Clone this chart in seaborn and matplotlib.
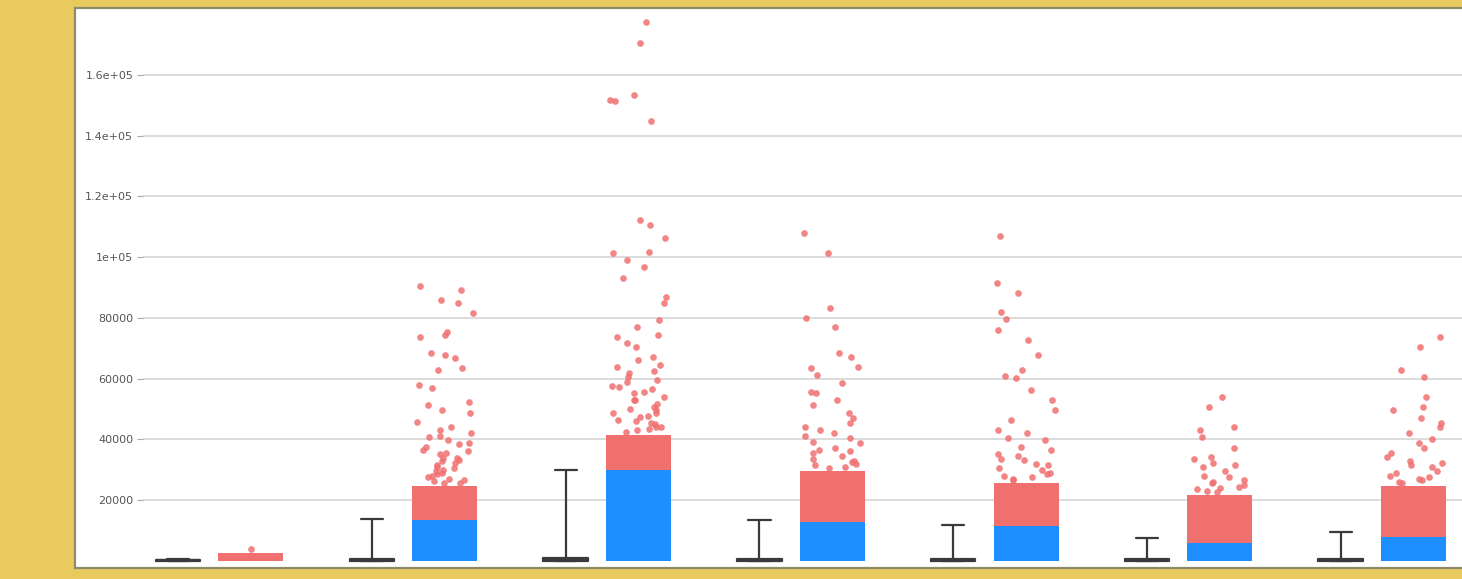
import numpy as np
import pandas as pd
import matplotlib
matplotlib.use("Agg")
import matplotlib.pyplot as plt
import seaborn as sns
from matplotlib.patches import Rectangle

# ---- data -------------------------------------------------------------
groups = ["A", "B", "C", "D", "E", "F", "G"]

# five-number summaries of the boxes (whiskers span min..max)
box_min = [0, 0, 0, 0, 0, 0, 0]
box_q1 = [0, 0, 0, 0, 0, 0, 0]
box_med = [100, 300, 400, 300, 300, 200, 200]
box_q3 = [300, 700, 900, 700, 600, 500, 500]
box_max = [400, 13800, 29900, 13400, 11700, 7500, 9400]

# densely packed observations: within-whisker band and crowded outlier band
inlier_top = [0, 13400, 29800, 12800, 11300, 5800, 7800]
dense_top = [2500, 24500, 41500, 29500, 25500, 21500, 24500]

# scattered outlying observations above the crowded band
out_a = [3800]
out_b = [90600, 89200, 85900, 84900, 81600, 75300, 74400, 73700, 68400, 67700,
         66700, 63500, 62800, 57900, 56900, 52300, 51300, 49700, 48700, 45700,
         44100, 42100, 40800, 39800, 38800, 36500, 35500, 33200, 32200, 29900,
         27600, 25600, 31000, 34000, 28500, 26500, 25500, 26200, 27000, 27800,
         28800, 29500, 30500, 31500, 32800, 33800, 35000, 36000, 37500, 38500,
         41000, 43000]
out_c = [177500, 170600, 153400, 151800, 151500, 145000, 112200, 110500, 106300,
         101700, 101400, 99000, 96800, 93200, 86900, 84900, 79300, 77000, 74400,
         73700, 71700, 70400, 67100, 66100, 63800, 61800, 60500, 58900, 57200,
         55200, 52900, 50600, 48700, 47400, 46000, 45000, 44000, 43500, 49500,
         54000, 57500, 64500, 42500, 43000, 44200, 45500, 46500, 47800, 48500,
         50000, 51500, 53000, 55500, 56500, 59500, 62500]
out_d = [107900, 101400, 83200, 79900, 77000, 68400, 67100, 63800, 63500, 61100,
         58500, 55600, 55200, 52900, 51300, 48700, 47000, 44100, 42100, 40400,
         38800, 36500, 35500, 33000, 32000, 31500, 30500, 31000, 32500, 33500,
         34500, 36000, 37000, 39000, 41000, 43000, 45500]
out_e = [107000, 91600, 88300, 81800, 79800, 75900, 72600, 67700, 62800, 60800,
         60200, 56200, 52900, 49600, 46300, 43000, 39700, 36400, 33100, 29800,
         28500, 27500, 31500, 35000, 26500, 27000, 28000, 29000, 30500, 32000,
         33500, 34500, 37500, 40500, 42000]
out_f = [53900, 50600, 44100, 43000, 40800, 34100, 32200, 30900, 26600, 24300,
         23500, 25500, 28000, 22500, 23000, 24000, 25000, 26000, 27500, 29500,
         31500, 33500, 37000]
out_g = [73700, 70400, 62800, 60500, 53900, 50600, 49600, 45300, 44100, 42100,
         38800, 34100, 32200, 30900, 26600, 27500, 29000, 25500, 26000, 27000,
         28000, 29500, 31500, 33000, 35500, 37000, 40000, 47000]

y_ticks = [20000, 40000, 60000, 80000, 100000, 120000, 140000, 160000]
y_tick_labels = ["20000", "40000", "60000", "80000", "1e+05", "1.2e+05",
                 "1.4e+05", "1.6e+05"]

# ---- styling ------------------------------------------------------------
frame_yellow = "#E8CA5E"
inlier_blue = "#1E8FFF"
outlier_red = "#F07070"
box_gray = "#3a3a3a"

sns.set_theme(style="white")
plt.rcParams["font.family"] = ["DejaVu Sans"]

fig = plt.figure(figsize=(14.62, 5.79), dpi=100, facecolor=frame_yellow)
W, H = 1462.0, 579.0

# white plotting panel, running past the right edge of the canvas
fig.patches.append(Rectangle((75 / W, 1 - 568 / H), 1.2, (568 - 8) / H,
                             transform=fig.transFigure, facecolor="white",
                             edgecolor="#8f8a6a", linewidth=1.6, zorder=-5))

ax = fig.add_axes([143 / W, 1 - 566 / H, (1571 - 143) / W, (566 - 10) / H])
ax.set_facecolor("none")
ax.set_zorder(2)

idx = np.arange(len(groups))
box_pos = idx - 0.188
pts_pos = idx + 0.188

# boxes built from their summaries
box_rows = []
for p, vals in zip(box_pos, zip(box_min, box_q1, box_med, box_q3, box_max)):
    for v in vals:
        box_rows.append({"pos": p, "value": v})
box_df = pd.DataFrame(box_rows)
sns.boxplot(data=box_df, x="pos", y="value", native_scale=True, orient="x",
            whis=(0, 100), width=0.23, fill=False, color=box_gray,
            linewidth=1.6, ax=ax)

# crowded bands, drawn as solid columns (red band under the blue one)
sns.barplot(x=pts_pos, y=dense_top, native_scale=True, orient="x",
            width=0.335, color=outlier_red, saturation=1, errorbar=None,
            linewidth=0, ax=ax, zorder=2)
sns.barplot(x=pts_pos, y=inlier_top, native_scale=True, orient="x",
            width=0.335, color=inlier_blue, saturation=1, errorbar=None,
            linewidth=0, ax=ax, zorder=3)

# scattered outliers
pt_rows = []
for p, vals in zip(pts_pos, [out_a, out_b, out_c, out_d, out_e, out_f, out_g]):
    for v in vals:
        pt_rows.append({"pos": p, "value": v})
pt_df = pd.DataFrame(pt_rows)
np.random.seed(7)
sns.stripplot(data=pt_df, x="pos", y="value", native_scale=True, orient="x",
              jitter=0.15, color=outlier_red, size=4.8, alpha=0.85,
              linewidth=0, ax=ax, zorder=4)

# ---- axes cosmetics -------------------------------------------------------
ax.set_xlim(-0.369, 7.0)
ax.set_ylim(-1750, 181450)
ax.set_yticks(y_ticks)
ax.set_yticklabels(y_tick_labels)
ax.set_xticks([])
ax.set_xlabel("")
ax.set_ylabel("")
for s in ax.spines.values():
    s.set_visible(False)
ax.yaxis.grid(True, color="#d9d9d9", linewidth=1.3)
ax.set_axisbelow(True)
ax.tick_params(axis="y", left=True, length=4, width=0.8, color="#aaaaaa",
               labelsize=8, labelcolor="#555555", pad=3)

fig.savefig("out.png", dpi=100, facecolor=frame_yellow)
